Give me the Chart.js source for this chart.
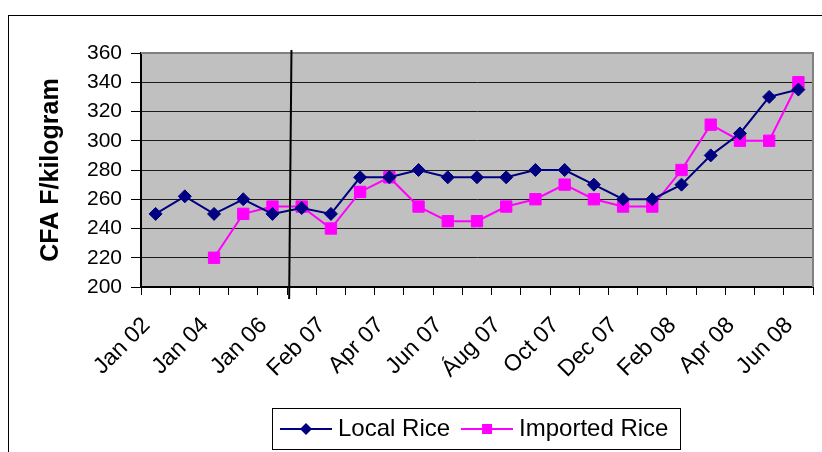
<!DOCTYPE html>
<html>
<head>
<meta charset="utf-8">
<script src="https://cdn.jsdelivr.net/npm/chart.js@4/dist/chart.umd.min.js"></script>
<style>
	body { margin: 0; background: #fff; }
	#frame { position: absolute; left: 8px; top: 15px; width: 900px; height: 500px; border: 1px solid #000; }
	#wrap { position: absolute; left: 0; top: 0; width: 822px; height: 452px; }
</style>
</head>
<body>
<div id="frame"></div>
<div id="wrap"><canvas id="chart" width="822" height="452"></canvas></div>
<script>
const categories = ['Jan 02', 'Jan 03', 'Jan 04', 'Jan 05', 'Jan 06', 'Jan 07', 'Feb 07', 'Mar 07', 'Apr 07', 'May 07', 'Jun 07', 'Jul 07',
	'Áug 07', 'Sep 07', 'Oct 07', 'Nov 07', 'Dec 07', 'Jan 08', 'Feb 08', 'Mar 08', 'Apr 08', 'May 08', 'Jun 08'];
const localRice = [250, 262, 250, 260, 250, 254, 250, 275, 275, 280, 275, 275, 275, 280, 280, 270, 260, 260, 270, 290, 305, 330, 335];
const importedRice = [null, null, 220, 250, 255, 255, 240, 265, 275, 255, 245, 245, 255, 260, 270, 260, 255, 255, 280, 311, 300, 300, 340];
const seriesNames = ['Local Rice', 'Imported Rice'];
const yTitle = 'CFA F/kilogram';
const breakAfter = 4.62; // annual -> monthly separator (category index)

const NAVY = '#000080';
const PINK = '#FF00FF';

Chart.defaults.font.family = '"Liberation Sans", Arial, sans-serif';
Chart.defaults.color = '#000';

// legend icon: line with marker in the middle
function legendIcon(color, style) {
	let c = document.createElement('canvas');
	c.width = 52;
	c.height = 14;
	let ctx = c.getContext('2d');
	ctx.strokeStyle = color;
	ctx.fillStyle = color;
	ctx.lineWidth = 2;
	ctx.beginPath();
	ctx.moveTo(0, 7);
	ctx.lineTo(52, 7);
	ctx.stroke();
	if(style=='diamond')
	{
		ctx.beginPath();
		ctx.moveTo(26, 1);
		ctx.lineTo(32, 7);
		ctx.lineTo(26, 13);
		ctx.lineTo(20, 7);
		ctx.closePath();
		ctx.fill();
	}
	else
		ctx.fillRect(21, 2, 10, 10);
	return c;
}
const icons = [legendIcon(NAVY, 'diamond'), legendIcon(PINK, 'square')];

const plotStyle = {
	id: 'plotStyle',
	beforeDraw(chart) {
		const a = chart.chartArea;
		const ctx = chart.ctx;
		ctx.save();
		ctx.fillStyle = '#C0C0C0';
		ctx.fillRect(a.left, a.top, a.right - a.left, a.bottom - a.top);
		ctx.restore();
	},
	beforeDatasetsDraw(chart) {
		const a = chart.chartArea;
		const ctx = chart.ctx;
		ctx.save();
		ctx.strokeStyle = '#808080';
		ctx.lineWidth = 2;
		ctx.beginPath();
		ctx.moveTo(a.left, a.top);
		ctx.lineTo(a.right, a.top);
		ctx.lineTo(a.right, a.bottom);
		ctx.stroke();
		ctx.restore();
	},
	afterDatasetsDraw(chart) {
		const a = chart.chartArea;
		const x = chart.scales.x;
		const step = x.getPixelForValue(1) - x.getPixelForValue(0);
		const xp = x.getPixelForValue(breakAfter);
		const ctx = chart.ctx;
		ctx.save();
		ctx.strokeStyle = '#000';
		ctx.lineWidth = 2;
		ctx.beginPath();
		ctx.moveTo(xp + step * 0.03, a.top - 3);
		ctx.lineTo(xp - step * 0.05, a.bottom + 12);
		ctx.stroke();
		ctx.restore();
	},
	afterUpdate(chart) {
		// place legend where the original had it and keep its hitboxes in step
		const lg = chart.legend;
		const hb = lg.legendHitBoxes;
		if(!hb.length)
			return;
		const dx = 286 - hb[0].left;
		const dy = 417 - hb[0].top;
		lg.left += dx; lg.right += dx;
		lg.top += dy; lg.bottom += dy;
		hb.forEach(h => { h.left += dx; h.top += dy; });
	},
	afterDraw(chart) {
		const hb = chart.legend.legendHitBoxes;
		if(!hb.length)
			return;
		const last = hb[hb.length - 1];
		const ctx = chart.ctx;
		ctx.save();
		ctx.strokeStyle = '#000';
		ctx.lineWidth = 1;
		const l = Math.round(hb[0].left - 14) + 0.5;
		const r = Math.round(last.left + last.width + 12) + 0.5;
		const t = Math.round(hb[0].top - 9) + 0.5;
		const b = Math.round(hb[0].top + 32) + 0.5;
		ctx.strokeRect(l, t, r - l, b - t);
		ctx.restore();
	}
};

new Chart(document.getElementById('chart'), {
	type: 'line',
	data: {
		labels: categories,
		datasets: [
			{
				label: seriesNames[0],
				data: localRice,
				borderColor: NAVY,
				backgroundColor: NAVY,
				borderWidth: 2,
				pointStyle: 'rectRot',
				pointRadius: 6.5,
				pointBorderWidth: 1,
				tension: 0,
			},
			{
				label: seriesNames[1],
				data: importedRice,
				borderColor: PINK,
				backgroundColor: PINK,
				borderWidth: 2,
				pointStyle: 'rect',
				pointRadius: 8,
				pointBorderWidth: 1,
				tension: 0,
			},
		]
	},
	options: {
		responsive: false,
		animation: false,
		layout: {
			padding: {left: 32, right: 9, top: 53, bottom: 0}
		},
		scales: {
			x: {
				offset: true,
				grid: {
					offset: true,
					drawOnChartArea: false,
					tickLength: 8,
					tickColor: '#000',
					tickWidth: 1,
				},
				border: {color: '#000', width: 2},
				ticks: {
					autoSkip: false,
					minRotation: 45,
					maxRotation: 45,
					labelOffset: -9,
					padding: 17,
					font: {size: 23},
					color: '#000',
					callback: (v, i) => (i%2==0) ? categories[i] : '',
				},
				afterFit: s => {
					s.height = 114;
					s.paddingRight = 0;
				},
			},
			y: {
				min: 200,
				max: 360,
				ticks: {
					stepSize: 20,
					padding: 9,
					font: {size: 21},
					color: '#000',
				},
				grid: {
					color: ctx => (ctx.tick && ctx.tick.value==360) ? '#808080' : '#1a1a1a',
					tickColor: '#000',
					tickLength: 10,
					lineWidth: 1,
				},
				border: {color: '#000', width: 2},
				title: {
					display: true,
					text: yTitle,
					font: {size: 25, weight: 'bold'},
					color: '#000',
				},
				afterFit: s => { s.width = 109; },
			}
		},
		plugins: {
			title: {display: false},
			tooltip: {enabled: false},
			legend: {
				display: true,
				position: 'bottom',
				labels: {
					usePointStyle: true,
					pointStyleWidth: 40,
					padding: 17,
					font: {size: 24},
					color: '#000',
					generateLabels: chart => {
						let items = Chart.defaults.plugins.legend.labels.generateLabels(chart);
						items.forEach((it, i) => { it.pointStyle = icons[i]; });
						return items;
					}
				}
			}
		}
	},
	plugins: [plotStyle]
});
</script>
</body>
</html>
